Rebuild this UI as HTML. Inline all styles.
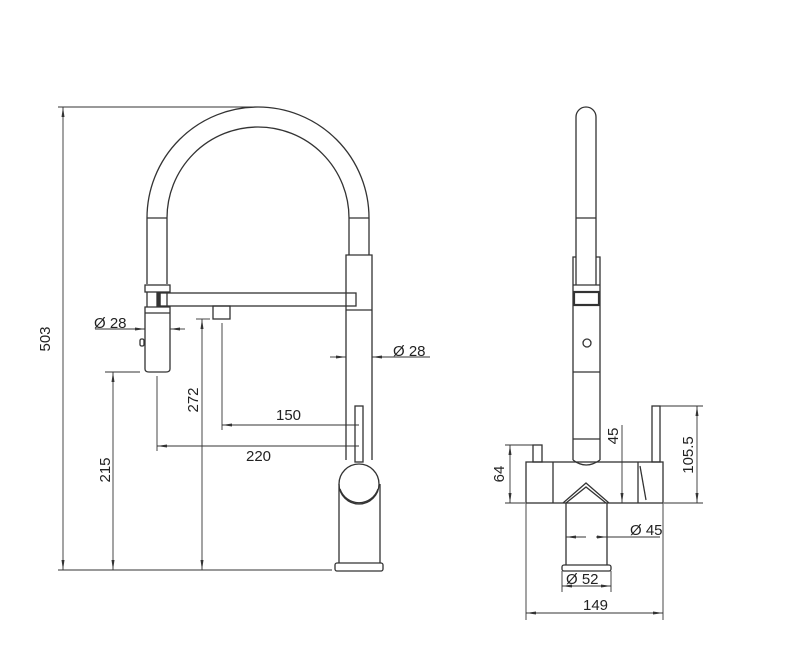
<!DOCTYPE html>
<html><head><meta charset="utf-8"><style>html,body{margin:0;padding:0;background:#fff}svg{display:block}text{font-family:"Liberation Sans",sans-serif;font-size:15px;fill:#222}</style></head>
<body>
<svg width="800" height="647" viewBox="0 0 800 647" xmlns="http://www.w3.org/2000/svg">
<defs><marker id="a" viewBox="0 0 10 6" refX="10" refY="3" markerWidth="10" markerHeight="6" orient="auto-start-reverse" markerUnits="userSpaceOnUse"><path d="M0,1.5 L10,3 L0,4.5z" fill="#333"/></marker></defs>
<g fill="none" stroke="#333" stroke-width="1.3">
<path d="M147,284 V218 A111,111 0 0 1 369,218 V255"/>
<path d="M167,284 V218 A91,91 0 0 1 349,218 V255"/>
<line x1="147" y1="218" x2="167" y2="218"/><line x1="349" y1="218" x2="369" y2="218"/>
<rect x="145" y="285" width="25" height="7"/>
<line x1="147" y1="292" x2="147" y2="307"/><line x1="167" y1="292" x2="167" y2="307"/>
<rect x="157" y="293" width="3" height="13" fill="#333"/>
<path d="M145,307 H170 V369 Q170,372 166,372 H149 Q145,372 145,369 Z"/>
<line x1="145" y1="313" x2="170" y2="313"/>
<rect x="140" y="339" width="4" height="7" rx="1.5"/>
<rect x="160" y="293" width="196" height="13"/>
<rect x="213" y="306" width="17" height="13"/>
<path d="M346,460 V255 H372 V460"/>
<line x1="346" y1="310" x2="372" y2="310"/>
<rect x="355" y="406" width="8" height="56"/>
<circle cx="359" cy="484" r="20"/>
<path d="M340,489 A20,20 0 0 0 378,489"/>
<path d="M339,484 V563 M380,484 V563"/>
<rect x="335" y="563" width="48" height="8" rx="2"/>
<g stroke-width="0.9">
<line x1="58" y1="107" x2="255" y2="107"/><line x1="58" y1="570" x2="332" y2="570"/>
<line x1="63" y1="107" x2="63" y2="570" marker-start="url(#a)" marker-end="url(#a)"/>
<line x1="105" y1="372" x2="140" y2="372"/>
<line x1="113" y1="372" x2="113" y2="570" marker-start="url(#a)" marker-end="url(#a)"/>
<line x1="196" y1="319" x2="210" y2="319"/>
<line x1="202" y1="319" x2="202" y2="570" marker-start="url(#a)" marker-end="url(#a)"/>
<line x1="222" y1="323" x2="222" y2="430"/>
<line x1="222" y1="425" x2="359" y2="425" marker-start="url(#a)"/>
<line x1="157" y1="376" x2="157" y2="451"/>
<line x1="157" y1="446" x2="359" y2="446" marker-start="url(#a)"/>
<line x1="95" y1="329" x2="145" y2="329" marker-end="url(#a)"/>
<line x1="185" y1="329" x2="170" y2="329" marker-end="url(#a)"/>
<line x1="330" y1="357" x2="346" y2="357" marker-end="url(#a)"/>
<line x1="430" y1="357" x2="372" y2="357" marker-end="url(#a)"/>
</g>
<path d="M576,255 V117 A10,10 0 0 1 596,117 V255"/>
<line x1="576" y1="218" x2="596" y2="218"/>
<path d="M573,460 V257 H576 M596,257 H600 V460"/>
<line x1="576" y1="255" x2="576" y2="285"/><line x1="596" y1="255" x2="596" y2="285"/>
<line x1="573" y1="285" x2="600" y2="285"/>
<rect x="574" y="292" width="25" height="13" stroke-width="2.2"/>
<line x1="573" y1="305" x2="600" y2="305"/>
<circle cx="587" cy="343" r="4"/>
<line x1="573" y1="372" x2="600" y2="372"/>
<line x1="573" y1="439" x2="600" y2="439"/>
<path d="M573,460 Q586,470 600,460"/>
<rect x="526" y="462" width="137" height="41"/>
<line x1="553" y1="462" x2="553" y2="503"/><line x1="638" y1="462" x2="638" y2="503"/>
<path d="M640,466 L646,500"/>
<rect x="533" y="445" width="9" height="17"/>
<rect x="652" y="406" width="8" height="56"/>
<path d="M563,503 L586,483 L609,503"/>
<path d="M566,503 L586,487 L606,503"/>
<path d="M566,503 V565 M607,503 V565"/>
<rect x="562" y="565" width="49" height="6" rx="2"/>
<g stroke-width="0.9">
<line x1="505" y1="445" x2="540" y2="445"/><line x1="505" y1="503" x2="525" y2="503"/>
<line x1="510" y1="445" x2="510" y2="503" marker-start="url(#a)" marker-end="url(#a)"/>
<line x1="622" y1="425" x2="622" y2="503" marker-end="url(#a)"/>
<line x1="660" y1="406" x2="703" y2="406"/><line x1="664" y1="503" x2="703" y2="503"/>
<line x1="697" y1="406" x2="697" y2="503" marker-start="url(#a)" marker-end="url(#a)"/>
<line x1="566" y1="537" x2="586" y2="537" marker-start="url(#a)"/>
<line x1="607" y1="537" x2="660" y2="537"/>
<line x1="596" y1="537" x2="607" y2="537" marker-end="url(#a)"/>
<line x1="562" y1="571" x2="562" y2="592"/><line x1="611" y1="571" x2="611" y2="592"/>
<line x1="562" y1="586" x2="611" y2="586" marker-start="url(#a)" marker-end="url(#a)"/>
<line x1="526" y1="503" x2="526" y2="620"/><line x1="663" y1="503" x2="663" y2="620"/>
<line x1="526" y1="613" x2="663" y2="613" marker-start="url(#a)" marker-end="url(#a)"/>
</g>
</g>
<text x="94" y="328">Ø 28</text>
<text x="393" y="356">Ø 28</text>
<text x="276" y="420">150</text>
<text x="246" y="461">220</text>
<text transform="translate(50,339) rotate(-90)" text-anchor="middle">503</text>
<text transform="translate(110,470) rotate(-90)" text-anchor="middle">215</text>
<text transform="translate(198,400) rotate(-90)" text-anchor="middle">272</text>
<text transform="translate(504,474) rotate(-90)" text-anchor="middle">64</text>
<text transform="translate(618,436) rotate(-90)" text-anchor="middle">45</text>
<text transform="translate(693,455) rotate(-90)" text-anchor="middle">105.5</text>
<text x="630" y="535">Ø 45</text>
<text x="566" y="584">Ø 52</text>
<text x="583" y="610">149</text>
</svg>
</body></html>
